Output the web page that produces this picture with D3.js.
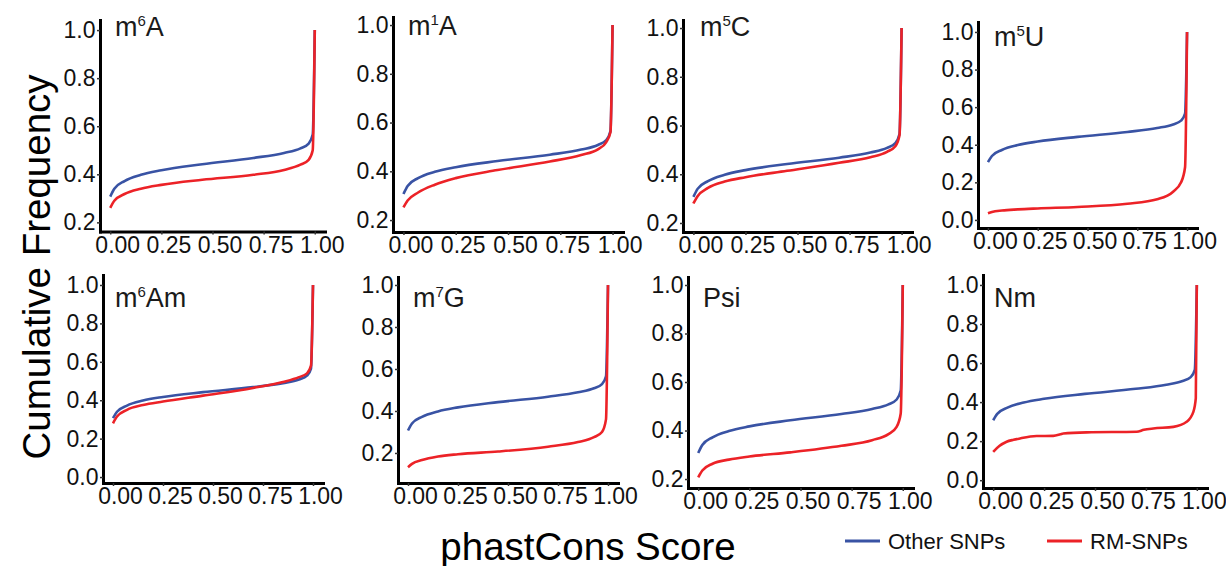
<!DOCTYPE html>
<html><head><meta charset="utf-8">
<script src="https://cdn.jsdelivr.net/npm/d3@7"></script>
<style>html,body{margin:0;padding:0;background:#fff;} svg{display:block;}</style>
</head><body>
<svg id="chart" width="1226" height="566"></svg>
<script>
// ---------------- data ----------------
const modifications = ["m6A", "m1A", "m5C", "m5U", "m6Am", "m7G", "Psi", "Nm"];
const titleParts = [["m","6","A"],["m","1","A"],["m","5","C"],["m","5","U"],["m","6","Am"],["m","7","G"],["Psi","",""],["Nm","",""]];
const seriesNames = ["Other SNPs", "RM-SNPs"];

// phastCons score grid shared by the smooth curves
const scoreGrid = [0, 0.02, 0.07, 0.15, 0.25, 0.45, 0.7, 0.85, 0.93, 0.97, 0.99, 1.0];
// cumulative frequency of Other SNPs (same background set in every panel)
const otherSNPs = [0.307, 0.34, 0.372, 0.398, 0.417, 0.442, 0.468, 0.489, 0.508, 0.528, 0.565, 1.0];
// cumulative frequency of RM-SNPs per modification
const rmM6A  = [0.26, 0.29, 0.318, 0.34, 0.356, 0.377, 0.398, 0.418, 0.44, 0.46, 0.5, 1.0];
const rmM1A  = [0.252, 0.28, 0.313, 0.345, 0.372, 0.405, 0.44, 0.467, 0.49, 0.52, 0.56, 1.0];
const rmM5C  = [0.28, 0.31, 0.344, 0.37, 0.388, 0.414, 0.447, 0.47, 0.492, 0.515, 0.56, 1.0];
const rmM5U  = [0.035, 0.042, 0.05, 0.056, 0.061, 0.069, 0.086, 0.11, 0.15, 0.2, 0.28, 1.0];
const rmM6Am = [0.28, 0.315, 0.35, 0.375, 0.393, 0.424, 0.464, 0.495, 0.52, 0.54, 0.58, 1.0];
const rmM7G  = [0.132, 0.148, 0.166, 0.183, 0.194, 0.207, 0.23, 0.252, 0.275, 0.3, 0.36, 1.0];
const rmPsi  = [0.207, 0.235, 0.263, 0.28, 0.293, 0.31, 0.337, 0.36, 0.385, 0.415, 0.47, 1.0];
// Nm RM-SNPs are few, so the curve is stepped: own score grid
const nmScoreGrid = [0, 0.03, 0.066, 0.1, 0.132, 0.213, 0.295, 0.33, 0.344, 0.459, 0.705, 0.74, 0.786, 0.885, 0.95, 0.983, 0.995, 1.0];
const rmNm   = [0.145, 0.175, 0.197, 0.207, 0.214, 0.226, 0.227, 0.235, 0.239, 0.245, 0.248, 0.258, 0.265, 0.273, 0.299, 0.35, 0.42, 1.0];

const rmSeries = [rmM6A, rmM1A, rmM5C, rmM5U, rmM6Am, rmM7G, rmPsi, rmNm];
const rmGrids  = [scoreGrid, scoreGrid, scoreGrid, scoreGrid, scoreGrid, scoreGrid, scoreGrid, nmScoreGrid];

const xTicks = [0, 0.25, 0.5, 0.75, 1.0];
const yTicksFrom02 = [0.2, 0.4, 0.6, 0.8, 1.0];
const yTicksFrom0  = [0.0, 0.2, 0.4, 0.6, 0.8, 1.0];
const panelYTicks = [yTicksFrom02, yTicksFrom02, yTicksFrom02, yTicksFrom0, yTicksFrom0, yTicksFrom02, yTicksFrom02, yTicksFrom0];
const xDomain = [-0.05, 1.05];
const yDomains = [[0.162,1.042],[0.151,1.033],[0.163,1.033],[-0.043,1.053],[-0.031,1.052],[0.057,1.038],[0.163,1.033],[-0.04,1.051]];

// ---------------- layout / style ----------------
const colors = ["#3953a4", "#ec2227"];
const FONT = "'Liberation Sans', Arial, Helvetica, sans-serif";
const panelBoxes = [
  {l:100, r:325, t:20,  b:231.5}, {l:393, r:623, t:17,  b:232}, {l:683, r:912, t:20,  b:232}, {l:978, r:1197, t:22, b:228},
  {l:103, r:323, t:275, b:483},   {l:398, r:618, t:277, b:483}, {l:688, r:913, t:277, b:488}, {l:983, r:1207, t:275, b:488}
];
const titlePos = [[115,36],[408,35],[700,36],[994,46],[115,307],[413,307],[703,307],[994,307]];

const svg = d3.select("#chart");

panelBoxes.forEach((box, i) => {
  const x = d3.scaleLinear().domain(xDomain).range([box.l, box.r]);
  const y = d3.scaleLinear().domain(yDomains[i]).range([box.b, box.t]);
  const g = svg.append("g");

  const line = d3.line().x(d => x(d[0])).y(d => y(d[1])).curve(d3.curveMonotoneX);
  const blue = scoreGrid.map((s, k) => [s, otherSNPs[k]]);
  const red = rmGrids[i].map((s, k) => [s, rmSeries[i][k]]);
  g.append("path").attr("d", line(blue)).attr("fill", "none")
    .attr("stroke", colors[0]).attr("stroke-width", 2.6);
  g.append("path").attr("d", line(red)).attr("fill", "none")
    .attr("stroke", colors[1]).attr("stroke-width", 2.6);

  // axes
  const ax = g.append("g").attr("transform", `translate(0,${box.b})`)
    .call(d3.axisBottom(x).tickValues(xTicks).tickSizeInner(3).tickSizeOuter(0).tickPadding(2).tickFormat(d3.format(".2f")));
  const ay = g.append("g").attr("transform", `translate(${box.l},0)`)
    .call(d3.axisLeft(y).tickValues(panelYTicks[i]).tickSizeInner(3).tickSizeOuter(0).tickPadding(1.5).tickFormat(d3.format(".1f")));
  [ax, ay].forEach(a => {
    a.select(".domain").attr("stroke", "#000").attr("stroke-width", 3).attr("stroke-linecap", "square");
    a.selectAll(".tick line").attr("stroke", "#333").attr("stroke-width", 1.5);
    a.selectAll(".tick text").attr("fill", "#111").style("font-family", FONT).style("font-size", "23px");
  });
  ax.selectAll(".tick text").attr("dx", 7);

  // panel title with superscript
  const tp = titleParts[i];
  const t = g.append("text").attr("x", titlePos[i][0]).attr("y", titlePos[i][1])
    .style("font-family", FONT).style("font-size", "27px").attr("fill", "#1a1a1a");
  t.append("tspan").text(tp[0]);
  if (tp[1]) {
    t.append("tspan").attr("dy", -10).style("font-size", "15px").text(tp[1]);
    t.append("tspan").attr("dy", 10).text(tp[2]);
  }
});

// axis titles
svg.append("text").attr("transform", "translate(50,267) rotate(-90)")
  .attr("text-anchor", "middle").style("font-family", FONT).style("font-size", "38.5px").attr("fill", "#000")
  .text("Cumulative Frequency");
svg.append("text").attr("x", 588).attr("y", 560)
  .attr("text-anchor", "middle").style("font-family", FONT).style("font-size", "38.5px").attr("fill", "#000")
  .text("phastCons Score");

// legend
const legendX = [845, 1047];
seriesNames.forEach((name, k) => {
  svg.append("line").attr("x1", legendX[k]).attr("x2", legendX[k] + 35).attr("y1", 541).attr("y2", 541)
    .attr("stroke", colors[k]).attr("stroke-width", 3);
  svg.append("text").attr("x", legendX[k] + 43).attr("y", 549)
    .style("font-family", FONT).style("font-size", "22px").attr("fill", "#111").text(name);
});
</script>
</body></html>
